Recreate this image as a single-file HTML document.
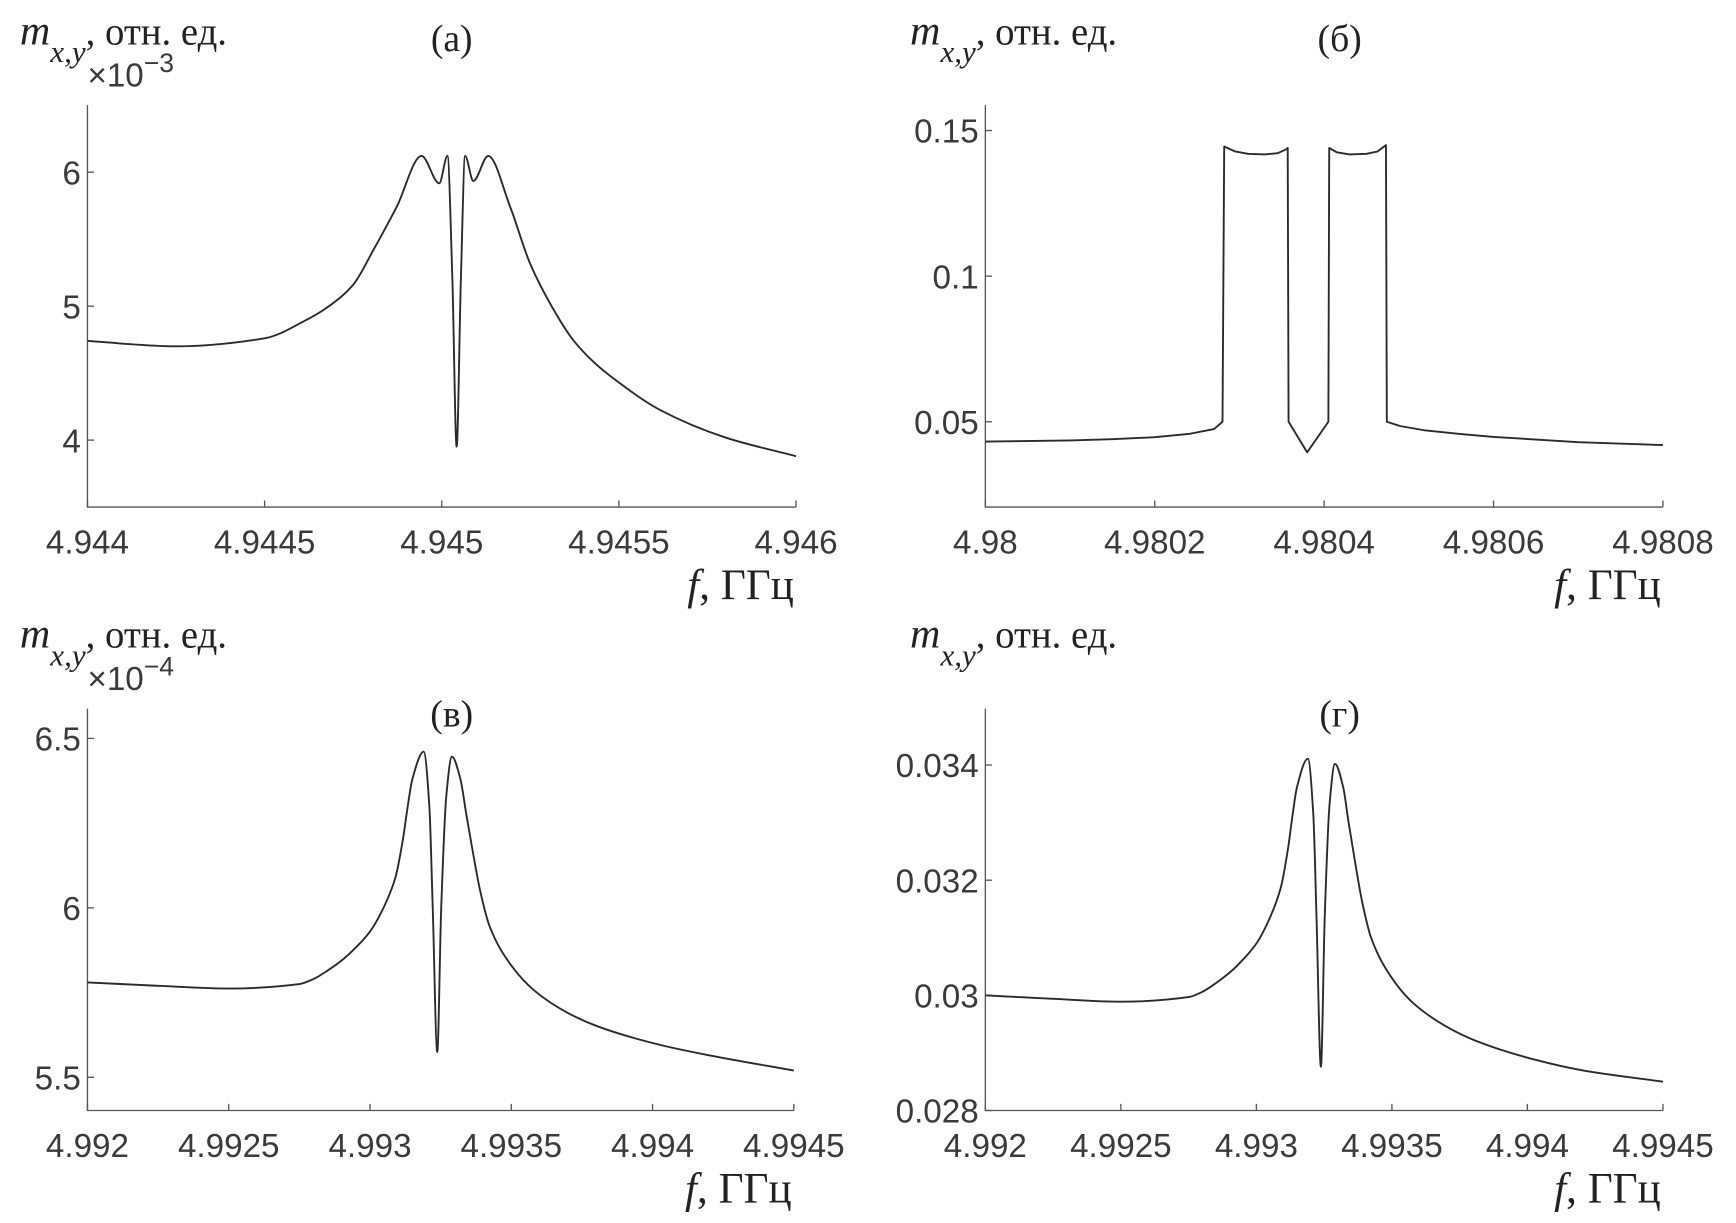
<!DOCTYPE html>
<html><head><meta charset="utf-8">
<style>
html,body{margin:0;padding:0;background:#fff;width:1736px;height:1223px;overflow:hidden}
svg{display:block}
.tick{font-family:"Liberation Sans",sans-serif;font-size:30px;fill:#3a3a3a}
.ser{font-family:"Liberation Serif","DejaVu Serif",serif;fill:#222}
</style></head>
<body>
<svg id="fig" width="1736" height="1223" viewBox="0 0 1568 1104.6" preserveAspectRatio="none" xmlns="http://www.w3.org/2000/svg"></svg>
<script>
// Panel (a)
const aTicksX=[4.944,4.9445,4.945,4.9455,4.946];
const aTickLabelsX=["4.944","4.9445","4.945","4.9455","4.946"];
const aTicksY=[4,5,6];
const aTickLabelsY=["4","5","6"];
const aF=[4.944,4.94425,4.9445,4.94462,4.944666,4.94475,4.944807,4.944873,4.944943,4.944993,4.945016,4.94503,4.945042,4.945054,4.945066,4.945089,4.945131,4.945193,4.945249,4.94531,4.945371,4.94543,4.94549,4.945616,4.9458,4.946];
const aM=[4.74,4.70,4.76,4.90,4.971,5.16,5.419,5.742,6.121,5.917,6.121,5.2,3.951,5.2,6.121,5.934,6.121,5.742,5.32,5.0,4.747,4.58,4.45,4.225,4.02,3.88];
// Panel (б)
const bTicksX=[4.98,4.9802,4.9804,4.9806,4.9808];
const bTickLabelsX=["4.98","4.9802","4.9804","4.9806","4.9808"];
const bTicksY=[0.05,0.1,0.15];
const bTickLabelsY=["0.05","0.1","0.15"];
const bF=[4.98,4.9801,4.98015,4.9802,4.98024,4.98027,4.98028,4.980282,4.980295,4.98031,4.98033,4.980345,4.980355,4.980357,4.980358,4.98038,4.980405,4.980406,4.980415,4.98043,4.98045,4.980463,4.980473,4.980474,4.98049,4.98052,4.98056,4.9806,4.9807,4.9808];
const bM=[0.0432,0.0436,0.0440,0.0447,0.0458,0.0475,0.0500,0.1445,0.1428,0.1420,0.1418,0.1422,0.1435,0.1440,0.0500,0.0395,0.0500,0.1440,0.1425,0.1418,0.1420,0.1428,0.1450,0.0500,0.0485,0.0470,0.0458,0.0448,0.0430,0.0420];
// Panel (в)
const cTicksX=[4.992,4.9925,4.993,4.9935,4.994,4.9945];
const cTickLabelsX=["4.992","4.9925","4.993","4.9935","4.994","4.9945"];
const cTicksY=[5.5,6,6.5];
const cTickLabelsY=["5.5","6","6.5"];
const cF=[4.992,4.99225,4.9925,4.99275,4.9928,4.99285,4.9929,4.99293,4.993,4.99305,4.99309,4.993118,4.99313,4.99315,4.99319,4.99321,4.993222,4.993238,4.993252,4.99327,4.99329,4.99332,4.99334,4.993365,4.99339,4.993424,4.9935,4.99358,4.9937,4.99381,4.99403,4.9942,4.9945];
const cM=[5.78,5.77,5.762,5.775,5.79,5.815,5.845,5.867,5.93,6.004,6.09,6.21,6.28,6.38,6.461,6.30,6.0,5.575,6.0,6.33,6.446,6.38,6.28,6.16,6.05,5.944,5.83,5.757,5.69,5.649,5.595,5.565,5.52];
// Panel (г)
const dTicksX=[4.992,4.9925,4.993,4.9935,4.994,4.9945];
const dTickLabelsX=["4.992","4.9925","4.993","4.9935","4.994","4.9945"];
const dTicksY=[0.028,0.030,0.032,0.034];
const dTickLabelsY=["0.028","0.03","0.032","0.034"];
const dF=[4.992,4.99225,4.9925,4.99275,4.9928,4.99285,4.9929,4.99293,4.993,4.99305,4.99309,4.993118,4.99313,4.99315,4.99319,4.99321,4.993222,4.993238,4.993252,4.99327,4.99329,4.99332,4.99334,4.993365,4.99339,4.993424,4.9935,4.99358,4.9937,4.99381,4.99403,4.9942,4.9945];
const dM=[0.03000,0.02994,0.02989,0.02997,0.03006,0.03021,0.03039,0.03052,0.03090,0.03135,0.03187,0.03259,0.03301,0.03362,0.03411,0.03314,0.03133,0.02876,0.03133,0.03332,0.03402,0.03362,0.03301,0.03229,0.03163,0.03099,0.03030,0.02986,0.02946,0.02921,0.02888,0.02870,0.02850];

const NS="http://www.w3.org/2000/svg";
const svg=document.getElementById('fig');
function mk(tag,attrs,parent){const e=document.createElementNS(NS,tag);for(const k in attrs)e.setAttribute(k,attrs[k]);(parent||svg).appendChild(e);return e;}

function monotone(px,py){
  const n=px.length;const d=[],m=[];
  for(let i=0;i<n-1;i++)d.push((py[i+1]-py[i])/(px[i+1]-px[i]));
  m[0]=d[0];m[n-1]=d[n-2];
  for(let i=1;i<n-1;i++){
    if(d[i-1]*d[i]<=0){m[i]=0;}
    else{const h0=px[i]-px[i-1],h1=px[i+1]-px[i];const w1=2*h1+h0,w2=h1+2*h0;m[i]=(w1+w2)/(w1/d[i-1]+w2/d[i]);}
  }
  let p="M"+px[0].toFixed(2)+","+py[0].toFixed(2);
  for(let i=0;i<n-1;i++){const h=px[i+1]-px[i];
    p+=" C"+(px[i]+h/3).toFixed(2)+","+(py[i]+m[i]*h/3).toFixed(2)+" "+(px[i+1]-h/3).toFixed(2)+","+(py[i+1]-m[i+1]*h/3).toFixed(2)+" "+px[i+1].toFixed(2)+","+py[i+1].toFixed(2);}
  return p;
}

function panel(o){
  const g=mk('g',{});
  
  
  const X=v=>o.x0+(v-o.xmin)/(o.xmax-o.xmin)*(o.x1-o.x0);
  const Y=v=>o.y1-(v-o.ymin)/(o.ymax-o.ymin)*(o.y1-o.y0);
  const ax=mk('path',{d:`M${o.x0},${o.y0} L${o.x0},${o.y1} L${o.x1},${o.y1}`,fill:'none',stroke:'#555','stroke-width':1.2},g);
  
  
  o.tx.forEach((v,i)=>{
    const t=mk('line',{x1:X(v),x2:X(v),y1:o.y1,y2:o.y1-6,stroke:'#555','stroke-width':1.2},g);
    
    
    const l=mk('text',{x:X(v),y:o.y1+42,'text-anchor':'middle',class:'tick'},g);l.textContent=o.txl[i];
    
    
  });
  o.ty.forEach((v,i)=>{
    const t=mk('line',{x1:o.x0,x2:o.x0+6,y1:Y(v),y2:Y(v),stroke:'#555','stroke-width':1.2},g);
    
    
    const l=mk('text',{x:o.x0-6,y:Y(v)+11,'text-anchor':'end',class:'tick'},g);l.textContent=o.tyl[i];
    
    
  });
  const px=o.f.map(X),py=o.m.map(Y);
  const d=o.smooth?monotone(px,py):"M"+px.map((x,i)=>x.toFixed(2)+","+py[i].toFixed(2)).join(" L");
  const c=mk('path',{d:d,fill:'none',stroke:'#2a2a2a','stroke-width':1.7,'stroke-linejoin':'round'},g);
  
  
  const yt=mk('text',{x:o.tlx,y:o.tly,class:'ser','font-size':35},g);
  yt.innerHTML='<tspan font-style="italic" font-size="38">m</tspan><tspan font-style="italic" font-size="28" dy="16">x,y</tspan><tspan dy="-16">, отн. ед.</tspan>';
  
  
  if(o.mult){const mt=mk('text',{x:o.tlx+61,y:o.tly+38,class:'tick','font-size':31},g);
    mt.innerHTML='×10<tspan dy="-13" font-size="24">'+o.mult+'</tspan>';
    
    }
  const pl=mk('text',{x:o.plx,y:o.ply,'text-anchor':'middle',class:'ser','font-size':34},g);pl.textContent=o.plabel;
  
  
  const xt=mk('text',{x:o.x1-2,y:o.y1+83,'text-anchor':'end',class:'ser','font-size':39},g);
  xt.innerHTML='<tspan font-style="italic">f</tspan>, ГГц';
  
  
}

panel({name:'panel-a',x0:79,x1:719,y0:95,y1:458,xmin:4.944,xmax:4.946,ymin:3.5,ymax:6.5,tx:aTicksX,txl:aTickLabelsX,ty:aTicksY,tyl:aTickLabelsY,f:aF,m:aM,smooth:true,tlx:18,tly:40,mult:'−3',plabel:'(а)',plx:408,ply:46});
panel({name:'panel-b',x0:890,x1:1502,y0:95,y1:458,xmin:4.98,xmax:4.9808,ymin:0.0207,ymax:0.1587,tx:bTicksX,txl:bTickLabelsX,ty:bTicksY,tyl:bTickLabelsY,f:bF,m:bM,smooth:false,tlx:822,tly:40,mult:null,plabel:'(б)',plx:1210,ply:46});
panel({name:'panel-c',x0:79,x1:717,y0:640,y1:1003,xmin:4.992,xmax:4.9945,ymin:5.402,ymax:6.588,tx:cTicksX,txl:cTickLabelsX,ty:cTicksY,tyl:cTickLabelsY,f:cF,m:cM,smooth:true,tlx:18,tly:585,mult:'−4',plabel:'(в)',plx:408,ply:656});
panel({name:'panel-d',x0:890,x1:1502,y0:640,y1:1003,xmin:4.992,xmax:4.9945,ymin:0.028,ymax:0.03498,tx:dTicksX,txl:dTickLabelsX,ty:dTicksY,tyl:dTickLabelsY,f:dF,m:dM,smooth:true,tlx:822,tly:585,mult:null,plabel:'(г)',plx:1210,ply:656});
</script>
</body></html>
